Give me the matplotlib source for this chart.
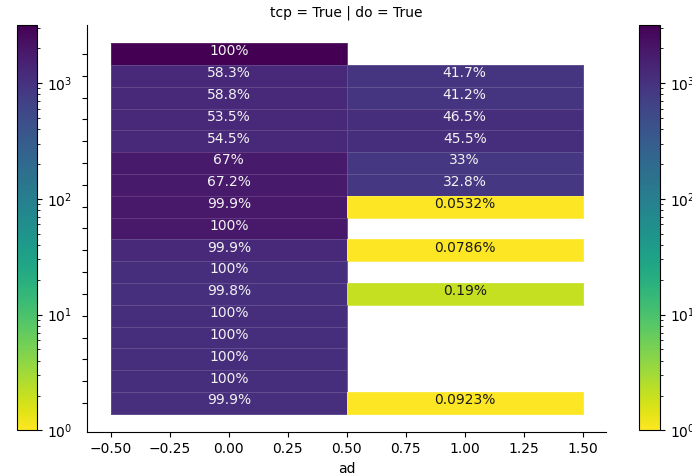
import numpy as np
import matplotlib
matplotlib.use("Agg")
import matplotlib.pyplot as plt
from matplotlib.colors import LogNorm

# Counts per row for ad = 0 and ad = 1 (None = no observations)
ad_values = [0, 1]
count_ad0 = [3170, 1283, 1300, 1284, 1308, 1809, 1815, 1879, 1900,
             1271, 1100, 1051, 1120, 1090, 1110, 1100, 1082]
count_ad1 = [None, 917, 911, 1116, 1092, 891, 886, 1, None,
             1, None, 2, None, None, None, None, 1]
title = "tcp = True | do = True"
x_label = "ad"

counts = np.array([[np.nan if v is None else v for v in count_ad0],
                   [np.nan if v is None else v for v in count_ad1]], dtype=float).T
n_rows = counts.shape[0]
totals = np.nansum(counts, axis=1)
shares = counts / totals[:, None] * 100

fig = plt.figure(figsize=(6.92, 4.74), dpi=100)
ax = fig.add_axes([0.1259, 0.0878, 0.7503, 0.8604])
cax_left = fig.add_axes([0.0246, 0.0920, 0.0289, 0.8553])
cax_right = fig.add_axes([0.9234, 0.0920, 0.0304, 0.8553])

norm = LogNorm(vmin=1, vmax=np.nanmax(counts))
cmap = plt.get_cmap("viridis_r")

x_edges = np.arange(len(ad_values) + 1) - 0.5
y_edges = np.arange(n_rows + 1) - 0.5
mesh = ax.pcolormesh(x_edges, y_edges, np.ma.masked_invalid(counts),
                     cmap=cmap, norm=norm,
                     edgecolors=(1, 1, 1, 0.14), linewidth=0.6)

for i in range(n_rows):
    for j, xv in enumerate(ad_values):
        c = counts[i, j]
        if np.isnan(c):
            continue
        col = "#f2f2f2" if norm(c) > 0.5 else "#1a1a1a"
        ax.text(xv, i - 0.12, f"{shares[i, j]:.3g}%", ha="center", va="center",
                fontsize=10, color=col)

ax.set_xlim(-0.6, 1.6)
ax.set_ylim(n_rows - 0.5 + 0.85, -0.5 - 0.85)
ax.set_yticks(np.arange(n_rows))
ax.set_yticklabels([""] * n_rows)
ax.set_xticks(np.arange(-0.5, 1.51, 0.25))
ax.set_xticklabels([f"{v:.2f}".replace("-", "\u2212") for v in np.arange(-0.5, 1.51, 0.25)])
ax.set_xlabel(x_label, fontsize=10)
ax.set_title(title, fontsize=10)
ax.spines["top"].set_visible(False)
ax.spines["right"].set_visible(False)

fig.colorbar(mesh, cax=cax_left)
fig.colorbar(mesh, cax=cax_right)

fig.savefig("out.png", dpi=100)
